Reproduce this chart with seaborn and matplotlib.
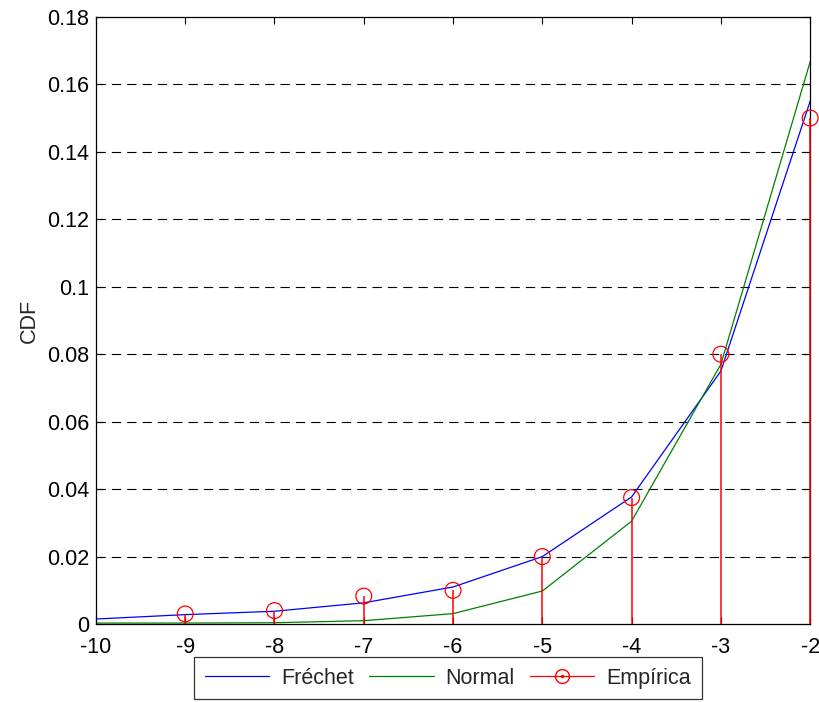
import matplotlib
matplotlib.use("Agg")
import matplotlib.pyplot as plt
from matplotlib.lines import Line2D
from matplotlib.legend_handler import HandlerLine2D
import seaborn as sns
import numpy as np
import pandas as pd

# x positions
x_vals = [-10, -9, -8, -7, -6, -5, -4, -3, -2]

# fitted CDFs
frechet_cdf = [0.0015, 0.0028, 0.0038, 0.0063, 0.011, 0.020, 0.0377, 0.075, 0.155]
normal_cdf = [0.0003, 0.0003, 0.0004, 0.0010, 0.0031, 0.0098, 0.0305, 0.077, 0.1667]

# empirical points
emp_x = [-9, -8, -7, -6, -5, -4, -3, -2]
emp_cdf = [0.003, 0.004, 0.0083, 0.010, 0.020, 0.0375, 0.080, 0.150]

y_ticks = [0, 0.02, 0.04, 0.06, 0.08, 0.1, 0.12, 0.14, 0.16, 0.18]
y_labels = ["0", "0.02", "0.04", "0.06", "0.08", "0.1", "0.12", "0.14", "0.16", "0.18"]

sns.set_style("white")
plt.rcParams["font.family"] = ["Liberation Sans", "DejaVu Sans"]
FS = 15.5


class RightMarker(HandlerLine2D):
    # stem legend entry: marker sits at the right end of the line
    def get_xdata(self, legend, xdescent, ydescent, width, height, fontsize):
        xdata, _ = super().get_xdata(legend, xdescent, ydescent, width, height, fontsize)
        return xdata, [xdata[-1] - 4]


df = pd.DataFrame({"x": x_vals, "Fréchet": frechet_cdf, "Normal": normal_cdf})

fig = plt.figure(figsize=(8.2, 7.02), dpi=100)
ax = fig.add_axes([0.117, 0.111, 0.871, 0.865])

# horizontal dashed grid
for yt in y_ticks[1:-1]:
    ax.axhline(yt, color="black", linestyle=(0, (8.4, 5.4)), linewidth=0.8, zorder=0)

sns.lineplot(data=df, x="x", y="Fréchet", color="#0000ff", linewidth=0.9, ax=ax, legend=False)
sns.lineplot(data=df, x="x", y="Normal", color="#008000", linewidth=0.9, ax=ax, legend=False)

ax.vlines(emp_x, 0, emp_cdf, color="red", linewidth=1.1, zorder=5, clip_on=False)
sns.scatterplot(x=emp_x, y=emp_cdf, marker="o", s=130, facecolors="none",
                edgecolor="red", linewidth=0.9, ax=ax, zorder=6, clip_on=False)

ax.set_xlim(-10, -2)
ax.set_ylim(0, 0.18)
ax.set_xticks(x_vals)
ax.set_xticklabels([str(v) for v in x_vals])
ax.set_yticks(y_ticks)
ax.set_yticklabels(y_labels)
ax.tick_params(direction="in", length=5, width=0.8, labelsize=FS, colors="black",
               top=True, right=True, bottom=True, left=True, pad=5)
ax.tick_params(axis="x", pad=9)
ax.set_xlabel("")
ax.set_ylabel("CDF", fontsize=FS, labelpad=5)
for sp in ax.spines.values():
    sp.set_color("black")
    sp.set_linewidth(0.9)

h_fr = Line2D([], [], color="#0000ff", linewidth=0.9)
h_no = Line2D([], [], color="#008000", linewidth=0.9)
h_em = (Line2D([], [], color="red", linewidth=0.9, marker="o", markersize=10,
               markerfacecolor="none", markeredgecolor="red"),
        Line2D([], [], linestyle="none", marker=".", markersize=3, color="red"))
leg = fig.legend([h_fr, h_no, h_em], ["Fréchet", "Normal", "Empírica"],
                 loc="center", bbox_to_anchor=(0.546, 0.034), ncol=3, numpoints=1,
                 handler_map={Line2D: RightMarker()},
                 fontsize=FS, frameon=True, fancybox=False, edgecolor="black",
                 handlelength=3.0, columnspacing=0.7, handletextpad=0.55,
                 borderpad=0.5, borderaxespad=0)
leg.get_frame().set_linewidth(0.9)

fig.savefig("out.png", dpi=100)
